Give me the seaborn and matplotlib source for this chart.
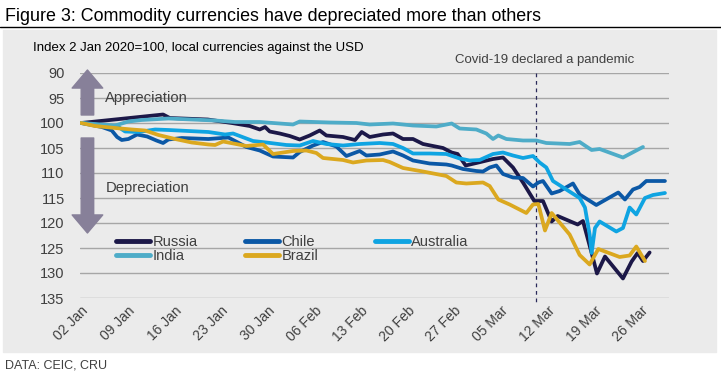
import pandas as pd
import numpy as np
import matplotlib
matplotlib.use("Agg")
import matplotlib.pyplot as plt
import matplotlib.dates as mdates
from matplotlib.patches import Rectangle
from matplotlib.lines import Line2D
import seaborn as sns

# Datos (días desde el 2 de enero de 2020, índice)
inicio = pd.Timestamp("2020-01-02")

dias_russia = [0, 12.3, 13.3, 19.0, 22.6, 25.3, 26.8, 27.6, 28.3, 29.8, 31.3, 32.8, 34.3, 35.8,
               36.8, 39.3, 41.1, 42.1, 43.3, 45.3, 46.8, 48.3, 49.8, 51.3, 54.3, 55.6, 56.5,
               57.7, 59.3, 61.8, 63.3, 64.8, 66.3, 68.0, 69.3, 70.6, 71.5, 74.5, 75.3, 76.6,
               77.4, 78.6, 81.3, 82.6, 83.5, 84.3, 85.3]
russia = [100.0, 98.3, 99.0, 99.3, 100.0, 100.6, 101.3, 100.8, 101.7, 102.1, 102.6, 103.3, 102.5,
          101.5, 102.5, 102.8, 103.4, 101.8, 102.8, 102.3, 102.1, 103.2, 103.2, 104.2, 105.0,
          105.9, 106.2, 108.5, 108.0, 107.2, 106.9, 108.9, 111.9, 115.6, 115.6, 119.7, 118.6,
          120.3, 119.6, 126.0, 130.1, 126.7, 131.1, 127.7, 126.0, 127.6, 125.9]

dias_chile = [0, 3.1, 4.6, 5.4, 6.1, 7.1, 8.4, 9.9, 11.3, 12.3, 13.1, 15.1, 19.1, 22.1, 24.8, 26.8,
              28.8, 31.8, 32.8, 34.8, 36.3, 38.3, 39.8, 41.8, 42.8, 44.8, 46.8, 48.3, 49.8, 52.3,
              54.8, 55.6, 57.3, 59.3, 60.3, 61.3, 62.3, 63.3, 64.8, 66.3, 67.8, 68.6, 69.3, 70.6,
              71.8, 73.8, 74.8, 77.3, 80.6, 81.6, 82.8, 83.8, 84.8, 87.6]
chile = [100.0, 100.8, 101.5, 102.8, 103.4, 103.2, 102.3, 102.7, 103.5, 104.0, 103.3, 103.0, 103.2,
         102.9, 104.8, 105.5, 106.7, 106.9, 105.8, 104.5, 103.8, 104.7, 106.6, 105.6, 106.5, 106.3,
         105.7, 106.5, 107.5, 108.1, 108.3, 108.5, 109.2, 109.6, 109.7, 108.9, 108.5, 110.2, 110.9,
         111.0, 112.7, 111.9, 111.6, 114.1, 113.6, 112.1, 114.3, 116.4, 113.9, 115.3, 113.3, 112.8,
         111.6, 111.6]

dias_australia = [0, 4.1, 5.6, 6.6, 8.6, 11.1, 13.1, 16.1, 19.1, 21.6, 22.8, 25.8, 27.8, 30.8, 32.8,
                  34.8, 36.8, 39.3, 41.8, 44.8, 46.8, 48.3, 49.8, 52.3, 54.8, 56.8, 58.3, 59.8, 61.8,
                  63.3, 64.8, 66.3, 67.8, 68.8, 69.8, 70.8, 72.8, 74.8, 75.6, 76.3, 76.6, 77.1, 77.8,
                  80.3, 81.3, 82.3, 83.3, 84.6, 85.8, 87.6]
australia = [100.0, 100.6, 100.8, 101.7, 101.8, 101.3, 101.4, 101.6, 101.8, 102.3, 102.1, 103.6,
             103.9, 104.4, 104.5, 103.6, 104.2, 104.5, 104.2, 104.0, 104.2, 105.0, 106.1, 106.1,
             106.2, 107.1, 107.5, 107.4, 106.2, 105.9, 106.5, 107.0, 106.6, 107.9, 108.9, 111.6,
             113.3, 115.0, 116.9, 122.3, 126.0, 121.0, 119.7, 121.7, 121.0, 116.9, 118.3, 115.0,
             114.4, 114.0]

dias_india = [0, 5.1, 7.1, 9.1, 13.1, 16.6, 20.1, 23.1, 26.8, 31.8, 32.8, 37.3, 41.3, 43.3, 46.8,
              49.8, 53.3, 55.6, 56.8, 59.3, 60.8, 61.8, 62.6, 63.8, 66.3, 68.3, 69.8, 73.3, 74.8,
              76.6, 77.8, 81.3, 84.3]
india = [100.0, 100.5, 99.7, 99.4, 99.1, 99.3, 99.5, 99.8, 99.8, 100.3, 99.7, 99.9, 100.0, 100.3,
         100.1, 100.5, 100.7, 100.1, 101.1, 101.3, 102.1, 103.2, 102.5, 103.2, 103.5, 103.5, 104.0,
         104.2, 103.8, 105.4, 105.2, 106.9, 104.8]

dias_brazil = [0, 2.1, 5.1, 7.6, 9.6, 11.6, 14.1, 16.6, 19.1, 20.1, 21.3, 24.8, 27.3, 28.8, 31.8,
               33.8, 35.3, 36.3, 39.3, 40.8, 42.8, 45.3, 46.3, 48.3, 51.3, 54.8, 56.3, 57.8, 60.3,
               61.3, 62.6, 64.3, 66.8, 67.8, 68.6, 69.6, 70.6, 73.3, 74.8, 76.3, 77.6, 80.8, 82.3,
               83.3, 84.6]
brazil = [100.0, 100.6, 101.0, 101.3, 101.5, 102.4, 103.2, 103.9, 104.3, 104.4, 103.7, 104.6, 104.3,
          106.2, 105.6, 105.5, 106.0, 107.0, 107.4, 107.9, 107.5, 107.4, 107.8, 109.0, 109.7, 110.6,
          111.9, 112.1, 111.9, 112.6, 115.3, 116.3, 118.0, 116.3, 116.2, 121.5, 118.0, 122.3, 126.4,
          128.3, 125.2, 126.8, 126.5, 124.7, 127.6]

paises = ["Russia", "Chile", "Australia", "India", "Brazil"]
colores = ["#1c1848", "#0b58a6", "#0fa4e2", "#4eacc8", "#dba81f"]

series = {
    "Russia": (dias_russia, russia),
    "Chile": (dias_chile, chile),
    "Australia": (dias_australia, australia),
    "India": (dias_india, india),
    "Brazil": (dias_brazil, brazil),
}

filas = []
for pais, (dias, valores) in series.items():
    fechas = inicio + pd.to_timedelta(dias, unit="D")
    filas.append(pd.DataFrame({"Fecha": fechas, "Indice": valores, "Pais": pais}))
df = pd.concat(filas, ignore_index=True)

fecha_pandemia = pd.Timestamp("2020-03-10 06:00")

# Estilo
sns.set_style("white")
plt.rcParams["font.family"] = ["Liberation Sans", "DejaVu Sans"]
gris_texto = "#404040"

fig = plt.figure(figsize=(7.21, 3.81), dpi=100)
fig.add_artist(Rectangle((3 / 721, 1 - 352 / 381), 713 / 721, 322 / 381,
                         transform=fig.transFigure, color="#ebebeb", zorder=0))
fig.add_artist(Line2D([0, 1], [1 - 27 / 381] * 2, color="black", lw=1.0))

ax = fig.add_axes([80 / 721, 1 - 298 / 381, (669 - 80) / 721, (298 - 73) / 381])
ax.set_facecolor("none")

sns.lineplot(data=df, x="Fecha", y="Indice", hue="Pais", hue_order=paises,
             palette=colores, estimator=None, sort=True, linewidth=2.7, ax=ax,
             legend=False, zorder=3)

ax.set_ylim(135, 90)
ax.set_yticks(np.arange(90, 136, 5))
ax.set_xlim(inicio - pd.Timedelta(hours=4), pd.Timestamp("2020-03-30 05:00"))
ticks = pd.date_range("2020-01-02", "2020-03-26", freq="7D")
ax.set_xticks(ticks)
ax.xaxis.set_major_formatter(mdates.DateFormatter("%d %b"))
ax.grid(axis="y", color="#a6a6a6", lw=1.0, zorder=0)
ax.grid(axis="x", visible=False)
for s in ax.spines.values():
    s.set_visible(False)
ax.set_xlabel("")
ax.set_ylabel("")
ax.tick_params(axis="y", length=0, pad=11, labelsize=10.5, labelcolor=gris_texto)
ax.tick_params(axis="x", length=0, pad=4, labelsize=10, labelcolor=gris_texto)
for lab in ax.get_xticklabels():
    lab.set_rotation(45)
    lab.set_ha("right")
    lab.set_va("top")
    lab.set_rotation_mode("anchor")

# Línea de la pandemia
ax.plot([fecha_pandemia, fecha_pandemia], [90, 135.8], ls=(0, (3, 3)), color="#2a2a5a",
        lw=0.9, clip_on=False, zorder=2)

# Flechas de apreciación / depreciación
x_flecha = inicio + pd.Timedelta(days=0.95)
estilo = dict(arrowstyle="simple,head_width=2.2,head_length=1.3,tail_width=0.9",
              color="#878099", mutation_scale=10, shrinkA=0, shrinkB=0)
ax.annotate("", xy=(x_flecha, 89.4), xytext=(x_flecha, 98.4), arrowprops=estilo,
            annotation_clip=False, zorder=4)
ax.annotate("", xy=(x_flecha, 122.0), xytext=(x_flecha, 103.0), arrowprops=estilo,
            annotation_clip=False, zorder=4)
ax.text(inicio + pd.Timedelta(days=3.6), 95.0, "Appreciation", fontsize=10.7,
        color=gris_texto, va="center", zorder=4)
ax.text(inicio + pd.Timedelta(days=3.7), 113.0, "Depreciation", fontsize=10.7,
        color=gris_texto, va="center", zorder=4)

# Leyenda: tres columnas de ancho fijo, como en Excel
columnas = [[0, 3], [1, 4], [2]]
x_columnas = [109, 238, 368]
for idx, xc in zip(columnas, x_columnas):
    h = [Line2D([], [], color=colores[i], lw=3.5) for i in idx]
    fig.legend(h, [paises[i] for i in idx], loc="upper left",
               bbox_to_anchor=(xc / 721, 1 - 228 / 381), ncol=1, frameon=False,
               fontsize=10.5, handlelength=2.3, handletextpad=0.17, labelspacing=0.0,
               borderpad=0, labelcolor=gris_texto)

# Textos
fig.text(5 / 721, 1 - 21 / 381, "Figure 3: Commodity currencies have depreciated more than others",
         fontsize=12.9, color="black", va="baseline")
fig.text(33 / 721, 1 - 48 / 381, "Index 2 Jan 2020=100, local currencies against the USD",
         fontsize=9.5, color="black", va="center")
fig.text(545 / 721, 1 - 60 / 381, "Covid-19 declared a pandemic", fontsize=9.5,
         color=gris_texto, ha="center", va="center")
fig.text(5 / 721, 1 - 366 / 381, "DATA: CEIC, CRU", fontsize=9, color=gris_texto, va="center")

fig.savefig("out.png", dpi=100)
